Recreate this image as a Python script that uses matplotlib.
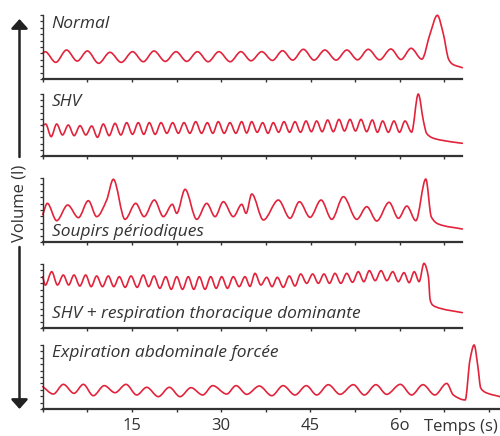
import numpy as np
import matplotlib
matplotlib.use("Agg")
import matplotlib.pyplot as plt
from matplotlib.path import Path
from matplotlib.patches import PathPatch, FancyArrowPatch

plt.rcParams['font.family'] = ['Open Sans', 'DejaVu Sans']

# ---------------- data (time in s, volume in arbitrary units 0-10) ----------------
titles = ["Normal", "SHV", "Soupirs périodiques",
          "SHV + respiration thoracique dominante", "Expiration abdominale forcée"]

normal_t = [0.0, 0.4, 2.2, 4.0, 5.8, 7.5, 9.4, 11.3, 13.2, 15.1, 16.9, 18.7, 20.6, 22.4, 24.2,
            26.0, 27.8, 29.6, 31.5, 33.3, 35.0, 36.8, 38.6, 40.3, 42.0, 43.8, 45.6, 47.4, 49.3,
            51.1, 52.9, 54.7, 56.6, 58.5, 60.2, 61.9, 63.7, 65.1, 66.3, 67.3, 68.2, 68.8, 70.5]
normal_v = [4.0, 4.27, 2.6, 4.53, 2.8, 4.38, 2.45, 4.17, 2.6, 4.27, 2.7, 4.38, 2.75, 4.27, 2.75,
            4.27, 2.7, 4.27, 2.7, 4.27, 2.85, 4.27, 2.9, 4.42, 2.95, 4.64, 2.95, 4.53, 2.95,
            4.53, 3.0, 4.64, 3.0, 4.69, 3.05, 4.8, 3.1, 7.1, 9.95, 7.1, 3.1, 2.35, 1.77]

shv_peak_t = [0.50, 2.35, 4.30, 6.27, 8.23, 10.18, 12.15, 14.11, 16.06, 17.91, 19.88, 21.84,
              23.74, 25.71, 27.66, 29.50, 31.47, 33.43, 35.11, 36.96, 38.74, 40.54, 42.39,
              44.24, 46.03, 47.88, 49.78, 51.63, 53.48, 55.38, 57.12, 59.02, 60.87]
shv_peak_v = [5.16, 5.16, 5.0, 4.89, 4.84, 5.16, 5.27, 5.38, 5.38, 5.38, 5.38, 5.38, 5.38,
              5.54, 5.38, 5.54, 5.38, 5.54, 5.54, 5.38, 5.38, 5.54, 5.54, 5.65, 5.65, 5.81,
              5.91, 5.91, 5.91, 5.81, 5.65, 5.65, 5.65]
shv_trough_v = [3.12, 3.39, 3.28, 3.39, 3.01, 3.28, 3.39, 3.49, 3.49, 3.49, 3.66, 3.66, 3.66,
                3.66, 3.66, 3.66, 3.66, 3.7, 3.82, 3.66, 3.82, 3.82, 3.82, 3.92, 3.92, 3.92,
                4.03, 4.03, 3.92, 3.82, 3.82, 3.82, 3.85]
shv_start = (0.0, 4.9)
shv_tail_t = [63.1, 64.0, 64.5, 65.4, 66.8, 70.5]
shv_tail_v = [10.0, 5.5, 3.66, 2.96, 2.58, 2.05]

soup_t = [0.0, 0.78, 2.35, 4.2, 6.0, 7.67, 9.07, 10.75, 11.87, 13.83, 15.63, 17.03, 18.76,
          20.27, 21.78, 22.52, 23.92, 25.88, 27.56, 28.96, 30.35, 32.03, 33.45, 34.17, 35.13,
          37.08, 39.6, 41.56, 43.13, 44.92, 46.77, 48.57, 50.52, 52.77, 54.45, 56.13, 58.2,
          59.77, 61.18, 62.69, 64.37, 65.3, 66.5, 70.5]
soup_v = [4.3, 6.04, 3.33, 5.78, 3.8, 6.46, 3.96, 6.56, 9.8, 3.54, 6.04, 3.96, 6.56,
          3.96, 5.89, 4.48, 8.23, 3.54, 6.04, 3.96, 6.3, 3.96, 5.89, 4.48, 7.5,
          3.44, 6.56, 3.7, 6.3, 3.85, 6.56, 3.54, 7.08, 3.54, 5.52, 3.28, 6.2,
          3.7, 5.62, 3.33, 9.84, 3.9, 2.8, 2.03]

thor_peak_t = [1.51, 3.46, 5.26, 7.22, 9.07, 11.02, 12.87, 14.84, 16.9, 18.7, 20.67, 22.52,
               24.46, 26.31, 28.23, 30.07, 32.02, 33.99, 35.67, 37.64, 39.42, 41.43, 43.35,
               45.36, 47.26, 49.11, 51.08, 53.03, 54.88, 56.84, 58.81, 60.7, 62.43]
thor_peak_v = [8.8, 8.28, 8.28, 8.28, 8.13, 8.13, 8.02, 8.13, 8.28, 8.13, 8.02, 8.02, 8.02,
               8.02, 8.02, 8.02, 8.02, 8.02, 8.54, 7.92, 7.92, 8.13, 8.44, 8.44, 8.44, 8.54,
               8.54, 8.8, 8.96, 8.96, 8.8, 8.65, 8.8]
thor_trough_v = [6.72, 6.72, 6.56, 6.46, 6.46, 6.46, 6.35, 6.35, 6.46, 6.2, 6.04, 6.04, 6.04,
                 6.04, 6.2, 6.2, 6.46, 6.5, 6.72, 6.46, 6.35, 6.56, 6.98, 6.98, 6.98, 6.98,
                 7.14, 7.24, 7.4, 7.4, 7.24, 7.08, 7.24]
thor_start = (0.0, 8.0)
thor_first_trough = (0.45, 6.7)
thor_tail_t = [64.06, 64.8, 65.1, 65.5, 66.8, 70.5]
thor_tail_v = [10.1, 8.0, 4.37, 3.6, 3.07, 2.4]

abdo_t = [0.0, 1.79, 3.47, 5.26, 6.83, 8.5, 10.35, 12.15, 14.0, 15.8, 17.48, 19.43, 21.28,
          23.08, 24.92, 26.89, 28.57, 30.92, 32.49, 34.29, 36.4, 38.5, 40.4, 42.4, 44.3,
          46.05, 48.0, 49.97, 52.2, 54.05, 56.0, 57.8, 60.1, 62.0, 63.9, 65.9, 67.9, 69.0,
          71.0, 71.8, 72.5, 73.15, 73.6, 74.4, 76.85]
abdo_v = [3.5, 2.34, 3.85, 2.45, 3.85, 2.08, 3.65, 2.55, 3.85, 2.19, 3.39, 1.93, 3.39,
          1.93, 3.33, 2.19, 3.65, 2.34, 3.65, 2.29, 3.59, 2.08, 3.65, 2.19, 3.65,
          2.19, 3.8, 2.29, 3.8, 2.19, 3.8, 2.29, 3.85, 2.19, 3.8, 2.19, 4.0, 2.2,
          1.41, 7.66, 10.0, 6.5, 3.3, 2.6, 1.93]

xticks = [0, 7.5, 15, 22.5, 30, 37.5, 45, 52.5, 60, 67.5, 75]
xtick_labels = ["", "", "15", "", "30", "", "45", "", "6o", "", ""]


def alternate(start, first, peaks_t, peaks_v, troughs_v, tail_t, tail_v):
    t = [start[0]]
    v = [start[1]]
    if first is not None:
        t.append(first[0]); v.append(first[1])
    for i in range(len(peaks_t)):
        t.append(peaks_t[i]); v.append(peaks_v[i])
        nxt = peaks_t[i + 1] if i + 1 < len(peaks_t) else tail_t[0]
        t.append(0.5 * (peaks_t[i] + nxt)); v.append(troughs_v[i])
    return t + list(tail_t), v + list(tail_v)


def bezier_path(x, y):
    x = np.asarray(x, float); y = np.asarray(y, float)
    h = np.diff(x); d = np.diff(y) / h
    m = np.zeros_like(x)
    m[0] = d[0]; m[-1] = d[-1]
    for k in range(1, len(x) - 1):
        if d[k - 1] * d[k] <= 0:
            m[k] = 0.0
        else:
            w1 = 2 * h[k] + h[k - 1]; w2 = h[k] + 2 * h[k - 1]
            m[k] = (w1 + w2) / (w1 / d[k - 1] + w2 / d[k])
    verts = [(x[0], y[0])]
    codes = [Path.MOVETO]
    for i in range(len(x) - 1):
        verts += [(x[i] + h[i] / 3, y[i] + m[i] * h[i] / 3),
                  (x[i + 1] - h[i] / 3, y[i + 1] - m[i + 1] * h[i] / 3),
                  (x[i + 1], y[i + 1])]
        codes += [Path.CURVE4] * 3
    return Path(verts, codes)


shv_t, shv_v = alternate(shv_start, None, shv_peak_t, shv_peak_v, shv_trough_v, shv_tail_t, shv_tail_v)
thor_t, thor_v = alternate(thor_start, thor_first_trough, thor_peak_t, thor_peak_v, thor_trough_v,
                           thor_tail_t, thor_tail_v)

series = [(normal_t, normal_v), (shv_t, shv_v), (soup_t, soup_v), (thor_t, thor_v), (abdo_t, abdo_v)]

# ---------------- layout ----------------
W, H = 500, 436
fig = plt.figure(figsize=(W / 100, H / 100), dpi=100)

rows = [(15, 79), (94, 156), (178, 242), (264, 328), (345, 409)]
x_left = 42.7
x_rights = [462.3, 462.3, 462.3, 462.3, 500.0]
xmaxes = [70.5, 70.5, 70.5, 70.5, 76.85]
label_base = [0.80, 0.806, 0.098, 0.15, 0.817]

red = '#e2233c'
dark = '#333333'

for i, ((top, bot), (t, v)) in enumerate(zip(rows, series)):
    ax = fig.add_axes([x_left / W, 1 - bot / H, (x_rights[i] - x_left) / W, (bot - top) / H])
    ax.set_xlim(0, xmaxes[i])
    ax.set_ylim(0, 10)
    for s in ['top', 'right']:
        ax.spines[s].set_visible(False)
    ax.spines['left'].set_color(dark)
    ax.spines['left'].set_linewidth(1.0)
    ax.spines['bottom'].set_color(dark)
    ax.spines['bottom'].set_linewidth(1.6)
    ax.set_yticks(np.arange(0, 11, 1))
    ax.set_yticklabels([])
    ax.tick_params(axis='y', direction='out', length=2.4, width=0.9, color=dark)
    ticks = [tk for tk in xticks if tk <= xmaxes[i] + 0.01]
    ax.set_xticks(ticks)
    if i == 4:
        ax.set_xticklabels(xtick_labels[:len(ticks)], fontsize=12, color=dark)
    else:
        ax.set_xticklabels([])
    ax.tick_params(axis='x', direction='out', length=2.4, width=1.0, color=dark, pad=4)
    ax.patch.set_visible(False)

    patch = PathPatch(bezier_path(t, v), fill=False, edgecolor=red, lw=1.2,
                      transform=ax.transData, clip_on=False,
                      capstyle='round', joinstyle='round')
    ax.add_patch(patch)

    ax.annotate(titles[i], xy=(0, label_base[i]), xycoords='axes fraction',
                xytext=(6.5, 0), textcoords='offset points',
                ha='left', va='baseline', fontsize=12.5, style='italic', color=dark)

fig.text(1 - 2 / W, 1 - 431 / H, "Temps (s)", ha='right', va='baseline', fontsize=12, color=dark)

# vertical arrow with label
ax_x = 19.5 / W
fig.patches.append(FancyArrowPatch((ax_x, 1 - 157 / H), (ax_x, 1 - 19 / H),
                                   transform=fig.transFigure, arrowstyle='-|>,head_length=0.4,head_width=0.36',
                                   mutation_scale=14, lw=1.8, color='#222222',
                                   shrinkA=0, shrinkB=0))
fig.patches.append(FancyArrowPatch((ax_x, 1 - 247 / H), (ax_x, 1 - 409 / H),
                                   transform=fig.transFigure, arrowstyle='-|>,head_length=0.4,head_width=0.36',
                                   mutation_scale=14, lw=1.8, color='#222222',
                                   shrinkA=0, shrinkB=0))
fig.text(ax_x, 1 - 203 / H, "Volume (l)", rotation=90, ha='center', va='center',
         fontsize=12, color=dark)

fig.savefig("out.png", dpi=100)
